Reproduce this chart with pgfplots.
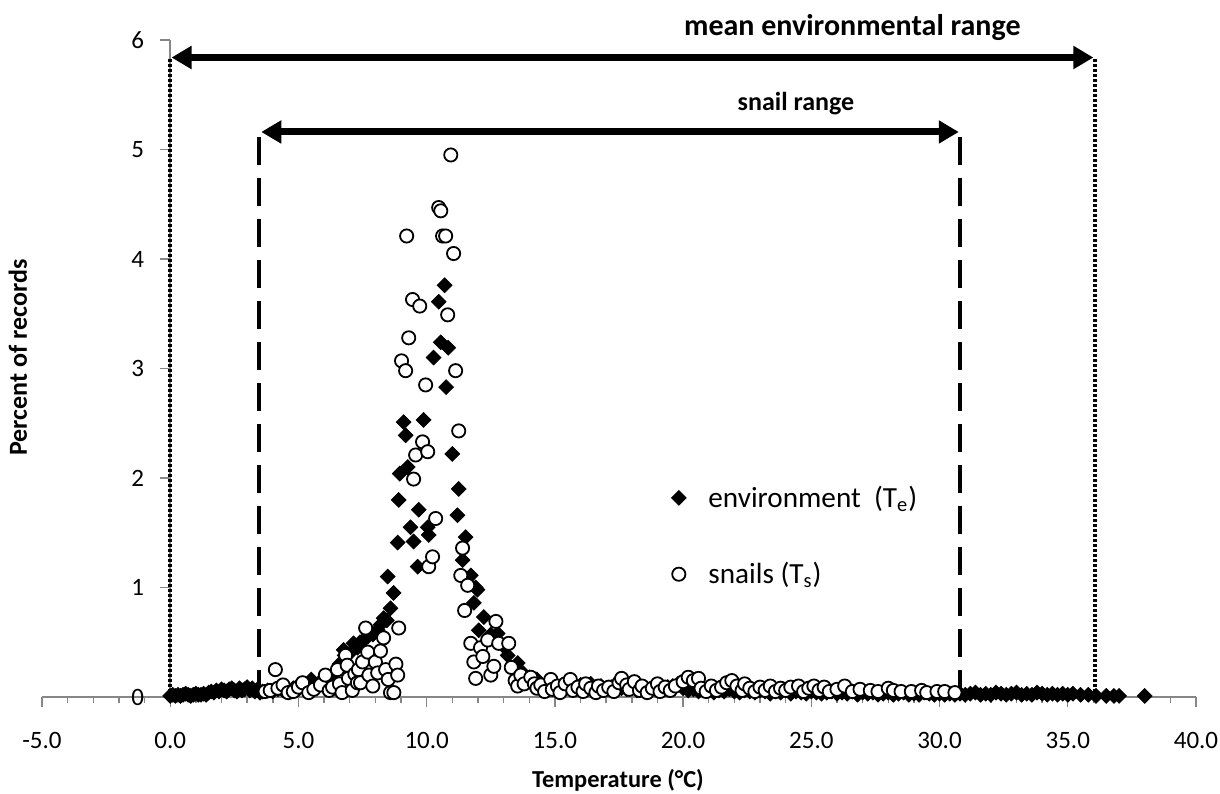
\documentclass[border=0pt]{standalone}
\usepackage{pgfplots}
\pgfplotsset{compat=1.18}
\usepackage{fontspec}
\setmainfont{Carlito}
\usetikzlibrary{arrows.meta}
\definecolor{axgray}{HTML}{868686}

\pgfplotstableread{
x y
0.0 0.01
0.1 0.02
0.2 0.01
0.3 0.02
0.4 0.01
0.5 0.02
0.6 0.03
0.7 0.02
0.8 0.01
0.9 0.02
1.0 0.03
1.1 0.02
1.2 0.02
1.3 0.03
1.4 0.02
1.5 0.04
1.6 0.05
1.7 0.04
1.8 0.06
1.9 0.05
2.0 0.07
2.1 0.06
2.2 0.05
2.3 0.07
2.4 0.08
2.5 0.06
2.6 0.05
2.7 0.08
2.8 0.06
2.9 0.07
3.0 0.09
3.1 0.06
3.2 0.08
3.3 0.05
3.4 0.07
3.5 0.04
3.6 0.05
3.8 0.06
4.0 0.05
4.2 0.07
4.4 0.06
4.6 0.05
4.8 0.08
5.0 0.07
5.2 0.09
5.4 0.10
5.5 0.16
5.6 0.12
5.8 0.13
6.0 0.15
6.2 0.18
6.4 0.22
6.6 0.30
6.76 0.43
6.8 0.38
7.0 0.40
7.15 0.49
7.3 0.45
7.4 0.50
7.54 0.52
7.7 0.55
7.8 0.60
7.9 0.57
8.09 0.61
8.2 0.66
8.32 0.72
8.45 0.70
8.59 0.81
8.71 0.95
8.48 1.10
8.87 1.41
8.91 1.80
8.95 2.04
9.10 2.51
9.18 2.39
9.26 2.10
9.37 1.55
9.49 1.42
9.65 1.19
9.69 1.71
9.88 2.53
10.04 1.55
10.08 1.48
10.27 3.10
10.47 3.61
10.55 3.24
10.70 3.76
10.84 3.19
10.76 2.83
11.0 2.22
11.25 1.90
11.2 1.66
11.52 1.46
11.4 1.25
11.72 1.11
11.91 1.00
11.84 0.86
11.98 0.98
12.23 0.73
12.03 0.61
12.5 0.57
12.77 0.58
12.97 0.47
13.16 0.38
13.4 0.27
13.55 0.31
13.75 0.22
14.0 0.18
14.3 0.16
14.6 0.10
14.96 0.13
15.2 0.08
15.4 0.09
15.6 0.07
15.8 0.08
16.0 0.11
16.2 0.09
16.4 0.12
16.6 0.08
16.8 0.10
17.0 0.07
17.2 0.09
17.4 0.06
17.6 0.08
17.8 0.07
18.0 0.09
18.2 0.06
18.4 0.07
18.6 0.05
18.8 0.08
19.0 0.06
19.2 0.07
19.4 0.09
19.6 0.10
19.8 0.12
20.0 0.08
20.2 0.06
20.4 0.07
20.6 0.05
20.8 0.07
21.0 0.06
21.2 0.04
21.4 0.06
21.6 0.05
21.8 0.07
22.0 0.05
22.2 0.04
22.4 0.06
22.6 0.05
22.8 0.04
23.0 0.06
23.2 0.05
23.4 0.03
23.6 0.05
23.8 0.04
24.0 0.06
24.2 0.03
24.4 0.05
24.6 0.04
24.8 0.03
25.0 0.05
25.2 0.04
25.4 0.03
25.6 0.04
25.8 0.05
26.0 0.03
26.2 0.04
26.4 0.03
26.6 0.05
26.8 0.02
27.0 0.04
27.2 0.03
27.4 0.04
27.6 0.02
27.8 0.03
28.0 0.04
28.2 0.02
28.4 0.03
28.6 0.04
28.8 0.02
29.0 0.03
29.2 0.02
29.4 0.04
29.6 0.03
29.8 0.02
30.0 0.03
30.2 0.02
30.4 0.03
30.6 0.02
30.8 0.03
31.0 0.02
31.2 0.03
31.4 0.04
31.6 0.02
31.8 0.03
32.0 0.02
32.2 0.04
32.4 0.03
32.6 0.02
32.8 0.03
33.0 0.04
33.2 0.02
33.4 0.03
33.6 0.02
33.8 0.04
34.0 0.03
34.2 0.02
34.4 0.03
34.6 0.02
34.8 0.03
35.0 0.02
35.2 0.03
35.5 0.02
35.8 0.02
36.1 0.01
36.5 0.01
36.8 0.01
37.0 0.01
38.0 0.01
}\envdata

\pgfplotstableread{
x y
3.7 0.05
3.9 0.06
4.1 0.25
4.2 0.08
4.4 0.11
4.6 0.04
4.8 0.05
5.0 0.09
5.16 0.13
5.4 0.04
5.6 0.07
5.86 0.11
6.05 0.20
6.2 0.06
6.33 0.09
6.52 0.25
6.6 0.12
6.7 0.04
6.84 0.38
6.9 0.29
6.95 0.17
7.1 0.06
7.2 0.21
7.3 0.13
7.34 0.25
7.42 0.13
7.5 0.32
7.62 0.63
7.7 0.41
7.75 0.20
7.9 0.10
8.0 0.32
8.09 0.22
8.2 0.42
8.32 0.54
8.4 0.25
8.5 0.16
8.59 0.04
8.72 0.04
8.8 0.30
8.87 0.20
8.91 0.63
9.02 3.07
9.18 2.98
9.22 4.21
9.30 3.28
9.45 3.63
9.49 1.99
9.57 2.21
9.73 3.57
9.84 2.33
9.96 2.85
10.04 2.24
10.08 1.19
10.23 1.28
10.35 1.63
10.47 4.47
10.55 4.44
10.62 4.21
10.74 4.21
10.82 3.49
10.94 4.95
11.05 4.05
11.13 2.98
11.25 2.43
11.33 1.11
11.4 1.36
11.6 1.02
11.48 0.79
11.72 0.49
11.84 0.32
11.91 0.17
12.1 0.45
12.19 0.37
12.38 0.52
12.5 0.20
12.62 0.28
12.7 0.69
12.81 0.49
13.2 0.49
13.3 0.27
13.45 0.15
13.55 0.10
13.67 0.20
13.8 0.12
14.06 0.18
14.2 0.12
14.3 0.08
14.45 0.11
14.6 0.05
14.84 0.16
14.9 0.07
15.1 0.10
15.2 0.04
15.4 0.12
15.6 0.16
15.7 0.06
15.9 0.09
16.1 0.05
16.2 0.12
16.4 0.08
16.6 0.04
16.7 0.10
16.9 0.06
17.1 0.09
17.3 0.05
17.5 0.13
17.6 0.17
17.8 0.11
17.9 0.07
18.1 0.14
18.3 0.06
18.4 0.10
18.6 0.04
18.8 0.08
19.0 0.12
19.1 0.05
19.3 0.09
19.5 0.06
19.7 0.10
20.0 0.14
20.2 0.18
20.4 0.15
20.6 0.17
20.7 0.08
20.9 0.05
21.1 0.10
21.3 0.06
21.5 0.09
21.7 0.13
21.9 0.15
22.1 0.10
22.3 0.06
22.4 0.12
22.6 0.08
22.8 0.05
23.0 0.09
23.2 0.06
23.4 0.10
23.6 0.05
23.8 0.08
24.0 0.06
24.2 0.09
24.5 0.10
24.7 0.05
24.9 0.08
25.1 0.10
25.3 0.06
25.5 0.09
25.7 0.05
26.0 0.07
26.3 0.10
26.6 0.05
26.9 0.07
27.3 0.06
27.6 0.05
28.0 0.08
28.2 0.06
28.5 0.05
28.9 0.05
29.3 0.06
29.5 0.04
29.9 0.05
30.2 0.05
30.6 0.04
}\snaildata

\begin{document}
\begin{tikzpicture}
\begin{axis}[
  scale only axis,
  width=577pt, height=328.5pt,
  xmin=-5, xmax=40, ymin=0, ymax=6,
  axis x line*=bottom, axis y line*=middle,
  hide obscured x ticks=false, hide obscured y ticks=false,
  axis line style={axgray, line width=0.8pt},
  every tick/.style={axgray, line width=0.7pt},
  tick align=outside,
  major tick length=5pt, minor tick length=3pt,
  xtick={-5,0,...,40}, minor x tick num=4,
  ytick={0,1,...,6},
  /pgf/number format/assume math mode=true,
  tick label style={font=\fontsize{12.5}{14}\selectfont, black},
  x tick label style={yshift=-9pt, /pgf/number format/fixed, /pgf/number format/fixed zerofill, /pgf/number format/precision=1},
  y tick label style={xshift=-4.5pt},
  clip=false,
  legend style={draw=none, fill=none, at={(axis cs:19.53,1.97)}, anchor=north west,
    font=\fontsize{14.6}{17}\selectfont, row sep=22pt, inner sep=0pt},
  legend cell align=left,
  legend image code/.code={\draw[#1, only marks] plot coordinates {(0.3cm,0cm)}; \path[draw=none, fill=none] (0.3cm,0cm) -- (0.75cm,0cm);},
]
\addplot[only marks, mark=square*, mark size=2.6pt, mark options={rotate=45, fill=black, draw=black}] table[x=x,y=y] {\envdata};
\addlegendentry{environment~~(T\textsubscript{e})}
\addplot[only marks, mark=*, mark size=3.3pt, mark options={fill=white, draw=black, line width=0.9pt}] table[x=x,y=y] {\snaildata};
\addlegendentry{snails (T\textsubscript{s})}

\draw[black, line width=2pt, dash pattern=on 1.5pt off 1pt] (axis cs:0,0) -- (axis cs:0,5.84);
\draw[black, line width=2pt, dash pattern=on 1.5pt off 1pt] (axis cs:36.05,0) -- (axis cs:36.05,5.84);
\draw[black, line width=2pt, dash pattern=on 14pt off 6.5pt] (axis cs:3.48,5.11) -- (axis cs:3.48,0);
\draw[black, line width=2pt, dash pattern=on 14pt off 6.5pt] (axis cs:30.8,5.11) -- (axis cs:30.8,0);
\draw[black, line width=3.5pt, {Triangle[length=10pt,width=11pt]}-{Triangle[length=10pt,width=11pt]}] (axis cs:0.05,5.84) -- (axis cs:36.0,5.84);
\draw[black, line width=3.5pt, {Triangle[length=10pt,width=11pt]}-{Triangle[length=10pt,width=11pt]}] (axis cs:3.55,5.16) -- (axis cs:30.75,5.16);
\node[font=\fontsize{15}{17}\selectfont\bfseries] at (axis cs:26.6,6.11) {mean environmental range};
\node[font=\fontsize{13}{15}\selectfont\bfseries] at (axis cs:24.4,5.42) {snail range};
\node[font=\fontsize{13}{15}\selectfont\bfseries, rotate=90] at (axis cs:-5.94,3.1) {Percent of records};
\node[font=\fontsize{12.2}{14}\selectfont\bfseries] at (axis cs:17.46,-0.76) {Temperature (°C)};
\end{axis}
\pgfresetboundingbox
\path[use as bounding box] ([xshift=-21pt,yshift=-48.5pt]current axis.south west) rectangle ([xshift=12pt,yshift=20pt]current axis.north east);
\end{tikzpicture}
\end{document}
